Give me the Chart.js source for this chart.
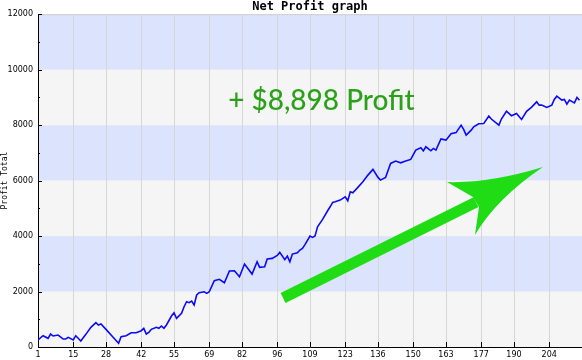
<!DOCTYPE html>
<html>
<head>
<meta charset="utf-8">
<script src="https://cdn.jsdelivr.net/npm/chart.js@4"></script>
<style>
  body { margin: 0; background: #fff; }
  #chart { display: block; }
</style>
</head>
<body>
<canvas id="chart" width="582" height="360"></canvas>
<script>
// DATOS
const tradeNo = [
    1, 3, 5, 6, 7, 9, 11, 12, 13, 15,
    16, 18, 20, 22, 24, 25, 26, 28, 31, 33,
    34, 36, 38, 40, 42, 43, 44, 45, 46, 48,
    49, 50, 51, 52, 54, 55, 56, 58, 59, 60,
    61, 62, 63, 64, 65, 67, 68, 69, 71, 72,
    73, 75, 77, 79, 81, 83, 86, 88, 89, 91,
    92, 94, 96, 97, 99, 100, 101, 102, 104, 105,
    106, 107, 109, 110, 111, 112, 114, 116, 117, 118,
    119, 121, 123, 124, 125, 126, 128, 130, 132, 134,
    136, 137, 139, 141, 143, 145, 147, 149, 151, 153,
    154, 155, 157, 158, 159, 161, 163, 165, 167, 169,
    170, 171, 173, 174, 176, 178, 180, 181, 184, 185,
    187, 189, 191, 193, 195, 197, 199, 200, 201, 203,
    205, 206, 207, 209, 210, 211, 212, 214, 215, 216
]
const netProfit = [
    252, 407, 313, 468, 396, 432, 288, 288, 348, 252,
    407, 216, 456, 709, 876, 793, 829, 637, 336, 132,
    372, 407, 516, 516, 588, 673, 468, 528, 637, 709,
    673, 757, 673, 793, 1117, 1237, 1033, 1213, 1453, 1633,
    1597, 1658, 1513, 1874, 1957, 1993, 1935, 1993, 2389, 2414,
    2440, 2317, 2739, 2750, 2533, 2991, 2631, 3074, 2872, 2894,
    3171, 3196, 3300, 3412, 3150, 3279, 3074, 3351, 3398, 3495,
    3556, 3690, 4000, 3953, 4000, 4335, 4600, 4912, 5056, 5214,
    5236, 5297, 5416, 5272, 5597, 5560, 5755, 5957, 6198, 6403,
    6115, 6018, 6115, 6620, 6703, 6642, 6703, 6764, 7099, 7183,
    7074, 7219, 7074, 7160, 7099, 7500, 7459, 7690, 7730, 8000,
    7845, 7640, 7820, 7939, 8050, 8060, 8324, 8220, 8000, 8220,
    8500, 8340, 8420, 8205, 8500, 8650, 8840, 8721, 8721, 8638,
    8721, 8925, 9045, 8901, 8925, 8757, 8901, 8804, 8998, 8898
]
const xTicks = [1, 15, 28, 42, 55, 69, 82, 96, 109, 123, 136, 150, 163, 177, 190, 204]
const yTicks = [0, 2000, 4000, 6000, 8000, 10000, 12000]

const bandBlue = "#dce3fc"
const bandGray = "#f5f5f5"
const arrowGreen = "#1fdc14"

// fondo con franjas
const bandas = {
    id: "bandas",
    beforeDraw(chart) {
        const { ctx, chartArea, scales } = chart
        ctx.save()
        for (let i = 0; i < yTicks.length - 1; i++) {
            const top = scales.y.getPixelForValue(yTicks[i + 1])
            const bottom = scales.y.getPixelForValue(yTicks[i])
            ctx.fillStyle = i % 2 === 0 ? bandGray : bandBlue
            ctx.fillRect(chartArea.left, top, chartArea.right - chartArea.left, bottom - top)
        }
        ctx.strokeStyle = "#cfcfcf"
        ctx.lineWidth = 1
        ctx.beginPath()
        ctx.moveTo(chartArea.left, chartArea.top + 0.5)
        ctx.lineTo(chartArea.right, chartArea.top + 0.5)
        ctx.stroke()
        ctx.restore()
    }
}

// marcas hacia adentro, flecha y texto
const extras = {
    id: "extras",
    afterDraw(chart) {
        const { ctx, chartArea, scales } = chart
        const px = (x, y) => [scales.x.getPixelForValue(x), scales.y.getPixelForValue(y)]
        ctx.save()
        ctx.strokeStyle = "#000"
        ctx.lineWidth = 1
        ctx.beginPath()
        for (let v = 0; v <= 12000; v += 1000) {
            const y = Math.round(scales.y.getPixelForValue(v)) + 0.5
            const len = v % 2000 === 0 ? 4 : 2
            ctx.moveTo(chartArea.left, y)
            ctx.lineTo(chartArea.left + len, y)
        }
        xTicks.forEach((t) => {
            const x = Math.round(scales.x.getPixelForValue(t)) + 0.5
            ctx.moveTo(x, chartArea.bottom)
            ctx.lineTo(x, chartArea.bottom - 5)
        })
        ctx.stroke()

        // flecha verde
        const inicio = px(98.3, 1766)
        const cuello = px(174.9, 5226)
        ctx.strokeStyle = arrowGreen
        ctx.lineWidth = 11
        ctx.lineCap = "butt"
        ctx.beginPath()
        ctx.moveTo(...inicio)
        ctx.lineTo(...cuello)
        ctx.stroke()

        const punta = px(201.5, 6487)
        const barbaIzq = px(163.4, 5947)
        const cuelloArriba = px(173.7, 5406)
        const cuelloAbajo = px(176.1, 5046)
        const barbaAbajo = px(174.5, 4036)
        const ctrlArriba = px(180.5, 5900)
        const ctrlAbajo = px(183, 5350)
        ctx.fillStyle = arrowGreen
        ctx.beginPath()
        ctx.moveTo(...punta)
        ctx.quadraticCurveTo(...ctrlArriba, ...barbaIzq)
        ctx.lineTo(...cuelloArriba)
        ctx.lineTo(...cuelloAbajo)
        ctx.lineTo(...barbaAbajo)
        ctx.quadraticCurveTo(...ctrlAbajo, ...punta)
        ctx.closePath()
        ctx.fill()

        // texto de ganancia
        const ultimo = netProfit[netProfit.length - 1]
        const pos = px(76.5, 8540)
        ctx.fillStyle = "#2ba11a"
        ctx.font = "500 28px Lato"
        ctx.textAlign = "left"
        ctx.textBaseline = "alphabetic"
        ctx.fillText("+ $" + ultimo.toLocaleString("en-US") + " Profit", pos[0], pos[1])
        ctx.restore()
    }
}

const config = {
    type: "line",
    data: {
        datasets: [{
            label: "Net Profit",
            data: tradeNo.map((t, i) => ({ x: t, y: netProfit[i] })),
            borderColor: "#0a0af5",
            borderWidth: 1.6,
            pointRadius: 0,
            fill: false,
            tension: 0
        }]
    },
    options: {
        responsive: false,
        devicePixelRatio: 1,
        animation: false,
        layout: { padding: 0 },
        plugins: {
            legend: { display: false },
            tooltip: { enabled: false },
            title: {
                display: true,
                text: "Net Profit graph",
                fullSize: false,
                color: "#000",
                font: { family: "DejaVu Sans Mono", size: 12, weight: "bold", lineHeight: 1.1 },
                padding: { top: 0, bottom: 1 }
            }
        },
        scales: {
            x: {
                type: "linear",
                min: 1,
                max: 217,
                afterBuildTicks: (axis) => {
                    axis.ticks = xTicks.map((v) => ({ value: v }))
                },
                afterFit: (scale) => { scale.height = 13 },
                border: { color: "#000", width: 1 },
                grid: { color: "#d6d6d6", drawTicks: false },
                ticks: {
                    autoSkip: false,
                    maxRotation: 0,
                    color: "#000",
                    padding: 3,
                    font: { family: "DejaVu Sans", size: 8 }
                }
            },
            y: {
                min: 0,
                max: 12000,
                afterBuildTicks: (axis) => {
                    axis.ticks = yTicks.map((v) => ({ value: v }))
                },
                afterFit: (scale) => { scale.width = 38 },
                border: { color: "#000", width: 1 },
                grid: { display: false, drawTicks: false },
                title: {
                    display: true,
                    text: "Profit Total",
                    color: "#000",
                    font: { family: "DejaVu Sans Mono", size: 8 },
                    padding: 0
                },
                ticks: {
                    color: "#000",
                    padding: 5,
                    font: { family: "DejaVu Sans", size: 8 },
                    callback: (value) => String(value)
                }
            }
        }
    },
    plugins: [bandas, extras]
}

const chartDOM = document.getElementById("chart")
new Chart(chartDOM, config)
</script>
</body>
</html>
